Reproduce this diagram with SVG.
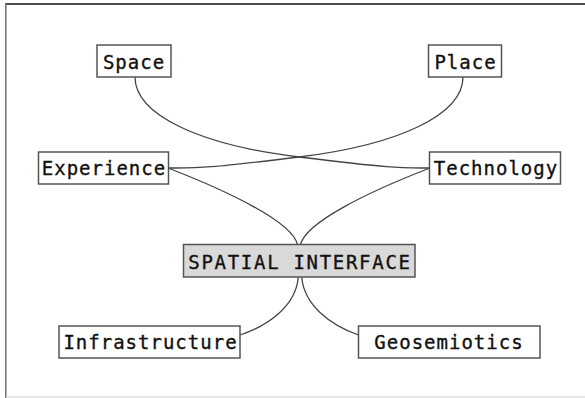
<svg xmlns="http://www.w3.org/2000/svg" width="585" height="398" viewBox="0 0 585 398">
<style>
.box{fill:#fff;stroke:#555;stroke-width:1.5}
.core{fill:#d9d9d9;stroke:#555;stroke-width:1.5}
.lbl{font-family:"DejaVu Sans Mono",monospace;font-size:19px;fill:#111;stroke:#111;stroke-width:0.35;text-anchor:middle;letter-spacing:1px}
.edge{fill:none;stroke:#444;stroke-width:1.3}
</style>
<rect width="585" height="398" fill="#fff"/>
<line x1="5" y1="4" x2="585" y2="4" stroke="#111" stroke-width="1.6"/>
<line x1="5.8" y1="3.5" x2="5.8" y2="398" stroke="#777" stroke-width="1.6"/>
<line x1="6" y1="396.8" x2="585" y2="396.8" stroke="#ddd" stroke-width="1.2"/>
<g id="connectors">
<path class="edge" d="M135,77 C135,115 200,145 299,157 S400,168 429,168"/>
<path class="edge" d="M463,77 C463,115 398,145 299,157 S198,168 168,168"/>
<path class="edge" d="M168,168 C230,192 292,222 297.5,244.5"/>
<path class="edge" d="M430,168 C368,192 306,222 300.5,244.5"/>
<path class="edge" d="M298.3,277 C296,305 270,325 240,335"/>
<path class="edge" d="M301.7,277 C304,305 330,325 358.5,335"/>
</g>
<g id="space"><rect class="box" x="97" y="45" width="74" height="32"/><text class="lbl" x="134" y="68.5">Space</text></g>
<g id="place"><rect class="box" x="428.5" y="45" width="73" height="32"/><text class="lbl" x="465.5" y="68.5">Place</text></g>
<g id="experience"><rect class="box" x="38.5" y="152" width="130" height="32"/><text class="lbl" x="104" y="175">Experience</text></g>
<g id="technology"><rect class="box" x="429.5" y="152" width="131" height="32"/><text class="lbl" x="496" y="175">Technology</text></g>
<g id="spatial-interface"><rect class="core" x="183.5" y="244.5" width="231.5" height="32.5"/><text class="lbl" x="300" y="268.5" style="letter-spacing:1.7px">SPATIAL INTERFACE</text></g>
<g id="infrastructure"><rect class="box" x="59" y="326" width="181" height="32"/><text class="lbl" x="150.5" y="348.5">Infrastructure</text></g>
<g id="geosemiotics"><rect class="box" x="358.5" y="326" width="181.5" height="32"/><text class="lbl" x="449" y="348.5">Geosemiotics</text></g>
</svg>
